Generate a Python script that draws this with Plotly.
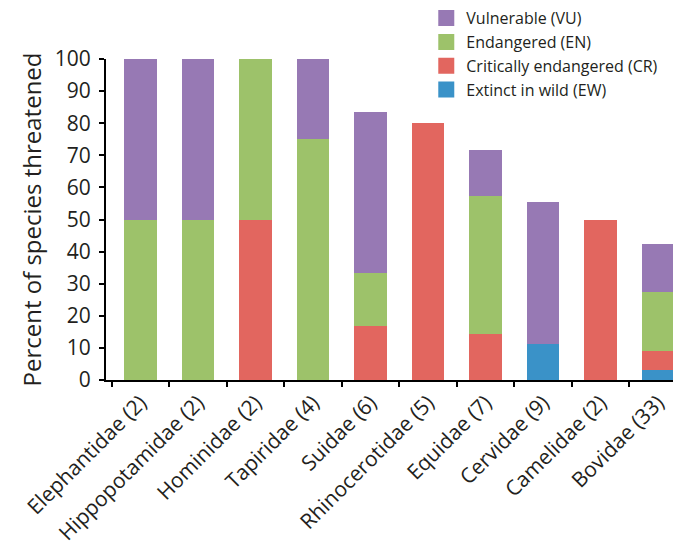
import plotly.graph_objects as go

categories = ["Elephantidae (2)", "Hippopotamidae (2)", "Hominidae (2)", "Tapiridae (4)",
              "Suidae (6)", "Rhinocerotidae (5)", "Equidae (7)", "Cervidae (9)",
              "Camelidae (2)", "Bovidae (33)"]
ew = [0, 0, 0, 0, 0, 0, 0, 11.1, 0, 3.0]
cr = [0, 0, 50, 0, 16.7, 80, 14.3, 0, 50, 6.1]
en = [50, 50, 50, 75, 16.7, 0, 42.9, 0, 0, 18.2]
vu = [50, 50, 0, 25, 50, 0, 14.3, 44.4, 0, 15.2]

series = [
    ("Extinct in wild (EW)", ew, "#3a92c8"),
    ("Critically endangered (CR)", cr, "#e2665f"),
    ("Endangered (EN)", en, "#9dc26a"),
    ("Vulnerable (VU)", vu, "#9779b4"),
]

font = "Open Sans, Noto Sans, sans-serif"
fig = go.Figure()
for name, vals, col in series:
    fig.add_trace(go.Bar(x=categories, y=vals, name=name, marker_color=col,
                         marker_line_width=0, showlegend=False))
# legend entries with larger square swatches
for name, vals, col in reversed(series):
    fig.add_trace(go.Scatter(x=[None], y=[None], mode="markers", name=name,
                             marker=dict(symbol="square", size=16, color=col)))

# the page body adds an 8px offset; size and margins compensate for it
fig.update_layout(
    width=673, height=544,
    barmode="stack", bargap=0.43,
    plot_bgcolor="white", paper_bgcolor="white",
    margin=dict(l=98, r=0, t=51, b=172, autoexpand=False),
    font=dict(family=font, size=21, color="#231f20"),
    showlegend=True,
    legend=dict(traceorder="normal", x=0.557, y=1.18, xanchor="left", yanchor="top",
                font=dict(size=16, color="#231f20"), bgcolor="rgba(0,0,0,0)",
                itemsizing="trace", tracegroupgap=0),
)
fig.update_xaxes(
    range=[-0.6, 9.4], showline=True, linecolor="black", linewidth=2,
    ticks="outside", tickson="boundaries", ticklen=5, tickwidth=2, tickcolor="black",
    tickangle=-45, showgrid=False, tickfont=dict(size=21), automargin=False,
)
fig.update_yaxes(
    range=[0, 100], showline=True, linecolor="black", linewidth=2,
    ticks="outside", ticklen=5, tickwidth=2, tickcolor="black",
    dtick=10, tick0=0, showgrid=False, zeroline=False, tickfont=dict(size=21),
    ticklabelstandoff=4,
    title=dict(text="Percent of species threatened", font=dict(size=24), standoff=6),
    automargin=False,
)
fig.write_html("out.html")
